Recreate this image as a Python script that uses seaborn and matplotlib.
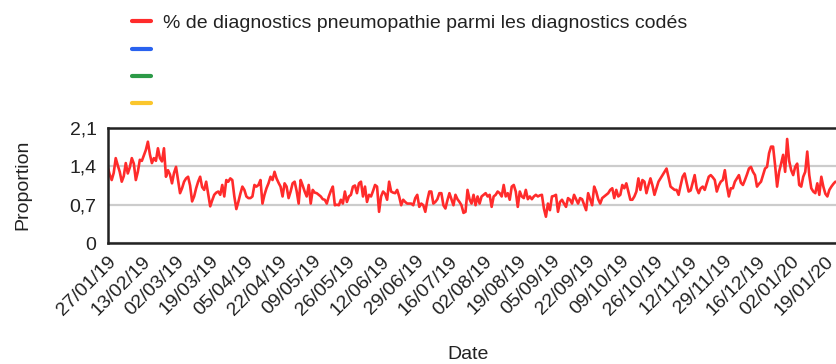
import matplotlib
matplotlib.use("Agg")
import matplotlib.pyplot as plt
from matplotlib.lines import Line2D
import matplotlib.dates as mdates
import seaborn as sns
import pandas as pd

# Daily share (%) of pneumonia diagnoses among coded diagnoses, from 27/01/2019
start_date = "2019-01-27"
proportion = [
    1.39, 1.25, 1.15, 1.28, 1.55, 1.42, 1.30, 1.12, 1.22, 1.46,
    1.27, 1.38, 1.55, 1.45, 1.15, 1.30, 1.52, 1.50, 1.60, 1.70,
    1.85, 1.62, 1.46, 1.55, 1.50, 1.73, 1.55, 1.49, 1.73, 1.21,
    1.33, 1.25, 1.09, 1.28, 1.39, 1.15, 0.91, 1.00, 1.12, 1.18,
    1.21, 1.05, 0.76, 0.85, 1.00, 1.12, 1.21, 1.02, 0.97, 1.12,
    0.90, 0.67, 0.78, 0.88, 0.92, 0.94, 0.88, 1.06, 0.85, 1.15,
    1.12, 1.18, 1.15, 0.85, 0.62, 0.75, 0.90, 1.03, 0.97, 0.85,
    0.82, 0.82, 0.85, 1.06, 1.03, 1.06, 1.15, 0.72, 0.88, 1.00,
    1.09, 1.21, 1.15, 1.30, 1.18, 1.10, 1.03, 0.85, 1.09, 1.03,
    0.82, 0.94, 1.09, 1.12, 0.95, 0.72, 1.15, 1.05, 0.94, 0.85,
    1.06, 0.72, 0.97, 0.92, 0.91, 0.88, 0.85, 0.80, 0.79, 0.72,
    0.85, 0.95, 1.03, 0.69, 0.70, 0.69, 0.79, 0.72, 0.94, 0.75,
    0.85, 0.88, 1.03, 1.05, 0.91, 1.09, 1.12, 0.85, 1.03, 0.75,
    0.88, 0.85, 0.95, 1.06, 1.03, 0.57, 0.85, 0.94, 0.90, 0.79,
    1.12, 0.94, 0.92, 0.91, 0.97, 0.85, 0.69, 0.79, 0.75, 0.72,
    0.72, 0.72, 0.69, 0.82, 0.88, 0.66, 0.72, 0.69, 0.57, 0.78,
    0.94, 0.94, 0.72, 0.75, 0.80, 0.91, 0.91, 0.69, 0.63, 0.78,
    0.91, 0.80, 0.69, 0.88, 0.80, 0.75, 0.69, 0.55, 0.57, 0.97,
    0.80, 0.72, 0.88, 0.69, 0.85, 0.72, 0.85, 0.88, 0.91, 0.85,
    0.88, 0.66, 0.85, 0.88, 0.94, 0.91, 0.85, 1.06, 0.85, 0.91,
    0.79, 1.03, 1.06, 0.94, 0.66, 0.94, 0.85, 0.82, 0.97, 0.80,
    0.85, 0.80, 0.85, 0.88, 0.85, 0.87, 0.88, 0.63, 0.48, 0.72,
    0.60, 0.85, 0.86, 0.88, 0.57, 0.75, 0.79, 0.72, 0.66, 0.82,
    0.79, 0.72, 0.88, 0.80, 0.72, 0.82, 0.80, 0.70, 0.60, 0.91,
    0.80, 0.69, 1.03, 0.94, 0.80, 0.72, 0.82, 0.85, 0.88, 0.91,
    0.97, 1.00, 0.82, 0.97, 0.85, 0.88, 1.06, 1.00, 1.09, 0.94,
    0.79, 0.79, 0.85, 0.94, 1.18, 0.97, 1.15, 1.12, 0.91, 1.05,
    1.18, 1.05, 0.88, 1.00, 1.12, 1.18, 1.24, 1.30, 1.36, 1.20,
    1.03, 1.00, 0.97, 0.97, 0.88, 1.05, 1.21, 1.27, 1.10, 0.94,
    0.96, 1.10, 1.24, 1.00, 0.91, 1.00, 1.03, 0.97, 1.09, 1.21,
    1.24, 1.20, 1.15, 0.94, 1.05, 1.12, 1.15, 1.33, 1.05, 0.85,
    1.00, 1.00, 1.12, 1.18, 1.24, 1.10, 1.06, 1.15, 1.25, 1.36,
    1.39, 1.30, 1.24, 1.03, 1.08, 1.12, 1.24, 1.36, 1.39, 1.64,
    1.76, 1.76, 1.42, 1.03, 1.30, 1.45, 1.61, 1.30, 1.90, 1.50,
    1.33, 1.24, 1.39, 1.45, 1.06, 1.03, 1.21, 1.30, 1.67, 1.24,
    1.00, 0.94, 0.91, 1.09, 0.88, 1.21, 1.03, 0.90, 0.85, 0.97,
    1.03, 1.08, 1.12,
]
dates = pd.date_range(start_date, periods=len(proportion), freq="D")

series_label = "% de diagnostics pneumopathie parmi les diagnostics codés"
legend_colors = ["#ff2b2b", "#2962ef", "#2c9a47", "#fbc62c"]
legend_labels = [series_label, "", "", ""]

y_ticks = [0, 0.7, 1.4, 2.1]
y_tick_labels = ["0", "0,7", "1,4", "2,1"]
tick_step_days = 17

df = pd.DataFrame({"Date": dates, "Proportion": proportion})

sns.set_style("white")
plt.rcParams["font.family"] = ["Liberation Sans", "DejaVu Sans"]
fs = 14

fig = plt.figure(figsize=(8.36, 3.64), dpi=100)
ax = fig.add_axes([0.1288, 0.3324, 0.8712, 0.3159])

sns.lineplot(data=df, x="Date", y="Proportion", ax=ax,
             color=legend_colors[0], linewidth=1.9, legend=False)

# axes limits and ticks
x0 = mdates.date2num(dates[0])
ax.set_xlim(x0, x0 + 362.3)
ax.set_ylim(0, 2.1)
tick_dates = pd.date_range(start_date, dates[-1], freq=f"{tick_step_days}D")
ax.set_xticks(tick_dates)
ax.xaxis.set_major_formatter(mdates.DateFormatter("%d/%m/%y"))
ax.set_yticks(y_ticks)
ax.set_yticklabels(y_tick_labels)

ax.tick_params(axis="x", direction="inout", length=8, width=1.3,
               color="#222222", labelsize=fs, labelcolor="#222222", pad=3)
ax.tick_params(axis="y", length=0, labelsize=fs, labelcolor="#222222", pad=8)
for lbl in ax.get_xticklabels():
    lbl.set_rotation(45)
    lbl.set_ha("right")
    lbl.set_va("top")
    lbl.set_rotation_mode("anchor")

ax.yaxis.grid(True, color="#cccccc", linewidth=1.6)
ax.xaxis.grid(False)
for side in ("left", "bottom", "top"):
    ax.spines[side].set_color("#222222")
    ax.spines[side].set_linewidth(1.8)
ax.spines["right"].set_visible(False)

ax.set_xlabel("Date", fontsize=fs, color="#222222")
ax.set_ylabel("Proportion", fontsize=fs, color="#222222")
ax.xaxis.set_label_coords(0.4947, -0.90)
ax.yaxis.set_label_coords(-0.105, 0.51)

handles = [Line2D([], [], color=c, linewidth=3) for c in legend_colors]
fig.legend(handles, legend_labels, loc="upper left",
           bbox_to_anchor=(0.137, 1.008), frameon=False, fontsize=fs,
           handlelength=1.0, handletextpad=0.6, labelspacing=0.5,
           labelcolor="#222222")

fig.savefig("out.png", dpi=100)
